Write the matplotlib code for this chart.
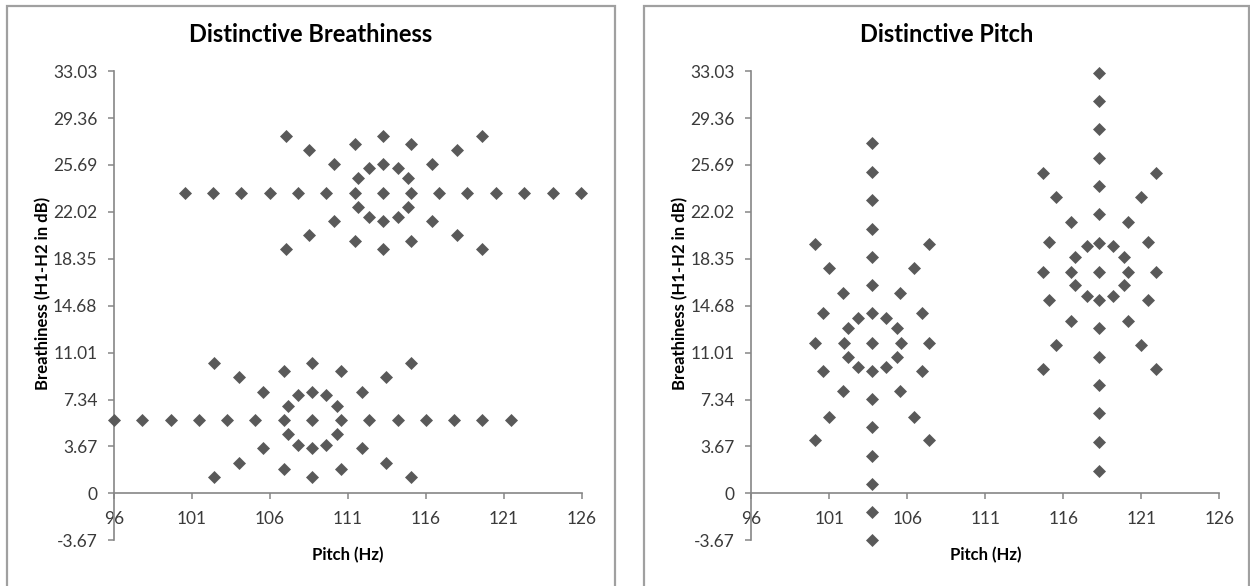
import matplotlib
matplotlib.use("Agg")
import matplotlib.pyplot as plt
from matplotlib.patches import Rectangle

plt.rcParams['font.family'] = ['Lato', 'DejaVu Sans']

# Distinctive Breathiness: low- and high-breathiness clusters
breath_low_x = [96.00, 97.81, 99.63, 101.44, 103.26, 105.07, 106.88, 108.70, 110.55, 112.37,
                114.18, 116.00, 117.81, 119.62, 121.44,
                108.70, 109.59, 110.28, 110.28, 109.59, 108.70, 107.80, 107.14, 107.14, 107.80,
                102.42, 104.02, 105.54, 106.90, 108.70, 110.55, 111.88, 113.43, 115.01,
                102.42, 104.02, 105.54, 106.90, 108.70, 110.55, 111.88, 113.43, 115.01]
breath_low_y = [5.74] * 15 + [
                7.95, 7.69, 6.83, 4.61, 3.78, 3.52, 3.78, 4.61, 6.83, 7.69,
                10.17, 9.13, 7.95, 9.57, 10.17, 9.57, 7.95, 9.13, 10.17,
                1.30, 2.40, 3.52, 1.88, 1.30, 1.88, 3.52, 2.40, 1.30]

breath_high_x = [100.57, 102.36, 104.17, 105.99, 107.80, 109.59, 111.43, 113.22, 115.04, 116.85,
                 118.66, 120.48, 122.31, 124.13, 125.96,
                 113.22, 114.18, 114.86, 114.86, 114.18, 113.22, 112.35, 111.66, 111.66, 112.35,
                 107.01, 108.51, 110.13, 111.43, 113.22, 115.04, 116.40, 117.96, 119.58,
                 107.01, 108.51, 110.13, 111.43, 113.22, 115.04, 116.40, 117.96, 119.58]
breath_high_y = [23.52] * 15 + [
                 25.74, 25.45, 24.65, 22.40, 21.59, 21.28, 21.59, 22.40, 24.65, 25.45,
                 27.98, 26.86, 25.74, 27.36, 27.98, 27.36, 25.74, 26.86, 27.98,
                 19.09, 20.19, 21.31, 19.72, 19.09, 19.72, 21.31, 20.19, 19.09]

# Distinctive Pitch: low- and high-pitch clusters
pitch_low_x = [103.74] * 15 + [
               104.63, 105.32, 105.58, 105.32, 104.63, 102.84, 102.18, 101.92, 102.18, 102.84,
               100.10, 107.37, 101.00, 106.45, 101.90, 105.53, 100.57, 106.92, 100.08, 107.39,
               100.57, 106.92, 101.90, 105.53, 101.00, 106.45, 100.10, 107.37]
pitch_low_y = [27.44, 25.14, 22.92, 20.71, 18.49, 16.27, 14.08, 11.78, 9.57, 7.36,
               5.16, 2.94, 0.73, -1.49, -3.67,
               13.72, 12.91, 11.78, 10.69, 9.91, 9.91, 10.69, 11.78, 12.91, 13.72,
               19.53, 19.53, 17.60, 17.60, 15.70, 15.70, 14.08, 14.08, 11.78, 11.78,
               9.57, 9.57, 8.00, 8.00, 6.00, 6.00, 4.14, 4.14]

pitch_high_x = [118.31] * 15 + [
                117.49, 119.21, 116.78, 119.87, 116.47, 120.15, 116.78, 119.87, 117.49, 119.21,
                114.68, 121.94, 115.55, 121.00, 116.49, 120.13, 115.10, 121.43, 114.68, 121.94,
                115.10, 121.43, 116.49, 120.13, 115.55, 121.00, 114.68, 121.94]
pitch_high_y = [32.91, 30.70, 28.48, 26.26, 24.05, 21.83, 19.61, 17.34, 15.13, 12.91,
                10.69, 8.47, 6.26, 3.99, 1.77,
                19.35, 19.35, 18.52, 18.52, 17.34, 17.34, 16.30, 16.30, 15.44, 15.44,
                25.06, 25.06, 23.18, 23.18, 21.23, 21.23, 19.64, 19.64, 17.34, 17.34,
                15.13, 15.13, 13.51, 13.51, 11.60, 11.60, 9.70, 9.70]

x_ticks = [96, 101, 106, 111, 116, 121, 126]
y_ticks = [-3.67, 0, 3.67, 7.34, 11.01, 14.68, 18.35, 22.02, 25.69, 29.36, 33.03]
y_tick_labels = ['-3.67', '0', '3.67', '7.34', '11.01', '14.68', '18.35', '22.02',
                 '25.69', '29.36', '33.03']

W, H = 1250, 586
fig = plt.figure(figsize=(W / 100, H / 100), dpi=100)

axis_grey = '#868686'
marker_grey = '#595959'

# (plot left px, frame left px, frame right px, title, series, y-label x px)
panels = [
    (114, 7, 615, 'Distinctive Breathiness',
     [(breath_low_x, breath_low_y), (breath_high_x, breath_high_y)], 43),
    (751.3, 644, 1249, 'Distinctive Pitch',
     [(pitch_low_x, pitch_low_y), (pitch_high_x, pitch_high_y)], 680),
]

top_px, bottom_px = 71.2, 540.2
width_px = 468.0
for left_px, x0, x1, title, series, ylab_x in panels:
    # chart frame
    fig.patches.append(Rectangle((x0 / W, -0.05), (x1 - x0) / W, 1.05 - 6 / H,
                                 transform=fig.transFigure, fill=False,
                                 edgecolor='#a0a0a0', linewidth=1.6))

    ax = fig.add_axes([left_px / W, 1 - bottom_px / H, width_px / W, (bottom_px - top_px) / H])
    for xs, ys in series:
        ax.scatter(xs, ys, marker='D', s=44, color=marker_grey, linewidths=0, clip_on=False, zorder=3)
    ax.set_xlim(96, 126)
    ax.set_ylim(-3.67, 33.03)
    ax.set_xticks(x_ticks)
    ax.set_xticklabels([str(t) for t in x_ticks])
    ax.set_yticks(y_ticks)
    ax.set_yticklabels(y_tick_labels)
    ax.spines['top'].set_visible(False)
    ax.spines['right'].set_visible(False)
    ax.spines['bottom'].set_position(('data', 0))
    for sp in ('left', 'bottom'):
        ax.spines[sp].set_color(axis_grey)
        ax.spines[sp].set_linewidth(1.2)
    ax.tick_params(axis='both', colors=axis_grey, length=4, width=1.1, labelsize=12.5,
                   labelcolor='#3a3a3a', direction='out')
    ax.tick_params(axis='y', pad=8)
    ax.tick_params(axis='x', pad=9)
    ax.set_facecolor('none')

    fig.text((x0 + x1) / 2 / W, 1 - 35 / H, title, ha='center', va='center', fontsize=17,
             fontweight='bold', color='black')
    fig.text((left_px + width_px / 2) / W, 1 - 555 / H, 'Pitch (Hz)', ha='center',
             va='center', fontsize=12, fontweight='bold', color='black')
    fig.text(ylab_x / W, 1 - 293 / H, 'Breathiness (H1-H2 in dB)', ha='center', va='center',
             rotation=90, fontsize=12, fontweight='bold', color='black')

fig.savefig('out.png', dpi=100)
